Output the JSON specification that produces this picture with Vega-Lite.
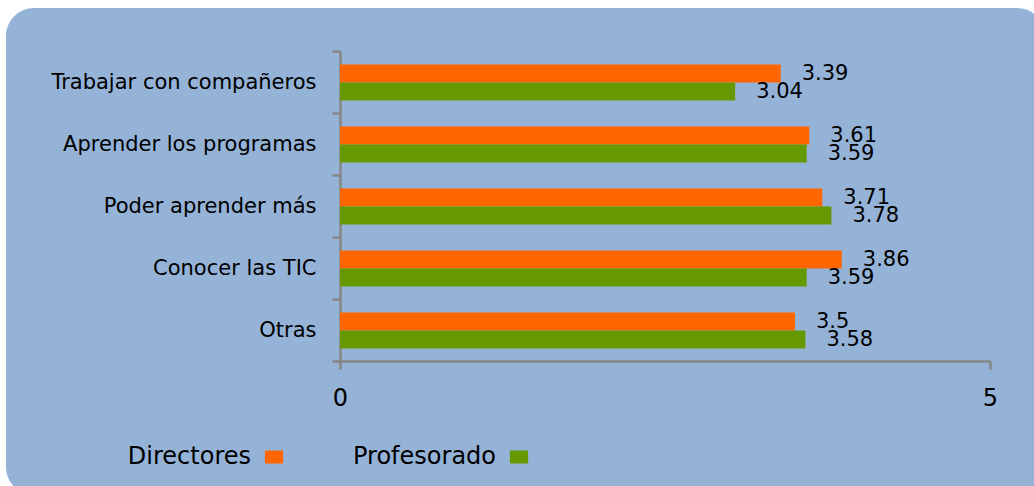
{
  "$schema": "https://vega.github.io/schema/vega-lite/v6.json",
  "width": 1039,
  "height": 487,
  "autosize": {"type": "none"},
  "padding": {"left": 6, "top": 8, "right": -11, "bottom": -9},
  "background": "white",
  "view": {"fill": "#95B3D7", "stroke": null, "cornerRadius": 28},
  "title": {
    "text": "Motivación del profesorado",
    "anchor": "start",
    "frame": "group",
    "font": "DejaVu Sans",
    "fontSize": 29,
    "fontStyle": "italic",
    "fontWeight": "normal",
    "color": "black",
    "baseline": "alphabetic",
    "offset": 4,
    "dx": 15
  },
  "data": {
    "values": [
      {"cat": "Trabajar con compañeros", "series": "Directores", "value": 3.39},
      {"cat": "Trabajar con compañeros", "series": "Profesorado", "value": 3.04},
      {"cat": "Aprender los programas", "series": "Directores", "value": 3.61},
      {"cat": "Aprender los programas", "series": "Profesorado", "value": 3.59},
      {"cat": "Poder aprender más", "series": "Directores", "value": 3.71},
      {"cat": "Poder aprender más", "series": "Profesorado", "value": 3.78},
      {"cat": "Conocer las TIC", "series": "Directores", "value": 3.86},
      {"cat": "Conocer las TIC", "series": "Profesorado", "value": 3.59},
      {"cat": "Otras", "series": "Directores", "value": 3.5},
      {"cat": "Otras", "series": "Profesorado", "value": 3.58}
    ]
  },
  "encoding": {
    "y": {
      "field": "cat",
      "type": "nominal",
      "sort": null,
      "title": null,
      "scale": {"type": "band", "paddingInner": 0, "paddingOuter": 0, "range": [43, 353]},
      "axis": {
        "orient": "left",
        "offset": -334,
        "domain": true,
        "domainColor": "#868686",
        "domainWidth": 2.5,
        "grid": false,
        "tickBand": "extent",
        "ticks": true,
        "tickSize": 8,
        "tickWidth": 2.5,
        "tickColor": "#868686",
        "labelPadding": 16,
        "labelFont": "DejaVu Sans",
        "labelFontSize": 21,
        "labelColor": "black",
        "labelLimit": 400
      }
    },
    "x": {
      "field": "value",
      "type": "quantitative",
      "title": null,
      "scale": {"domain": [0, 5], "nice": false, "zero": false, "range": [334, 984]},
      "axis": {
        "orient": "bottom",
        "offset": -134,
        "values": [0, 5],
        "domain": true,
        "domainColor": "#868686",
        "domainWidth": 2.5,
        "grid": false,
        "tickSize": 8,
        "tickWidth": 2.5,
        "tickColor": "#868686",
        "labelPadding": 17,
        "labelFlush": false,
        "labelFont": "DejaVu Sans",
        "labelFontSize": 24,
        "labelColor": "black",
        "format": "d"
      }
    },
    "yOffset": {
      "field": "series",
      "type": "nominal",
      "scale": {"paddingInner": 0, "paddingOuter": 0.722, "align": 0.52}
    }
  },
  "layer": [
    {
      "mark": {"type": "bar"},
      "encoding": {
        "color": {
          "field": "series",
          "type": "nominal",
          "scale": {"domain": ["Directores", "Profesorado"], "range": ["#FF6600", "#669900"]},
          "legend": {
            "orient": "none",
            "legendX": 256,
            "legendY": 437,
            "direction": "horizontal",
            "title": null,
            "padding": 0,
            "labelFont": "DejaVu Sans",
            "labelFontSize": 24,
            "labelColor": "black",
            "labelAlign": "right",
            "labelOffset": -35,
            "labelLimit": 400,
            "symbolType": "M-1.4,-1H1.4V1H-1.4Z",
            "symbolSize": 169,
            "symbolStrokeWidth": 0,
            "symbolOpacity": 1,
            "columnPadding": 69
          }
        }
      }
    },
    {
      "mark": {"type": "text", "align": "left", "baseline": "middle", "dx": 21, "font": "DejaVu Sans", "fontSize": 21, "color": "black"},
      "encoding": {
        "text": {"field": "value", "type": "quantitative"}
      }
    }
  ]
}
